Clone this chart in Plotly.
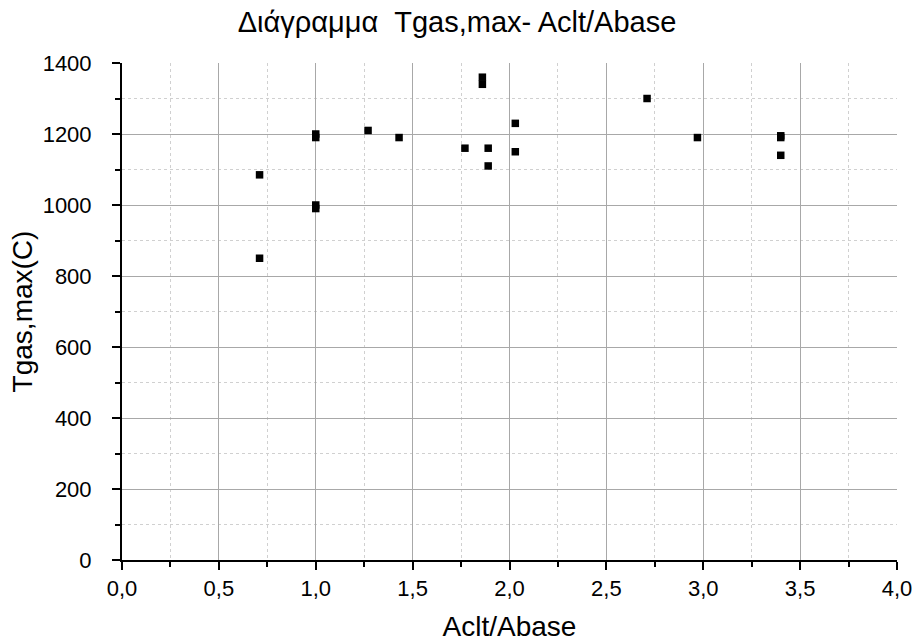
import plotly.graph_objects as go

# Data
ratio = [0.71, 0.71, 1.0, 1.0, 1.0, 1.0, 1.27, 1.43, 1.77, 1.86, 1.86, 1.89, 1.89,
         2.03, 2.03, 2.71, 2.97, 3.40, 3.40, 3.40]
tgas = [1085, 850, 1200, 1190, 1000, 990, 1210, 1190, 1160, 1360, 1340, 1160, 1110,
        1230, 1150, 1300, 1190, 1195, 1190, 1140]

x_ticks = [0.0, 0.5, 1.0, 1.5, 2.0, 2.5, 3.0, 3.5, 4.0]
y_ticks = [0, 200, 400, 600, 800, 1000, 1200, 1400]

FONT = "Liberation Sans, Arial, sans-serif"

fig = go.Figure(go.Scatter(
    x=ratio, y=tgas, mode="markers",
    marker=dict(symbol="square", size=7.5, color="black", line=dict(width=0)),
    showlegend=False,
))

axis_common = dict(
    showline=True, linecolor="black", linewidth=2,
    ticks="outside", ticklen=8, tickwidth=2, tickcolor="black",
    showgrid=True, gridcolor="#a8a8a8", gridwidth=1,
    zeroline=False, mirror=False, automargin=False,
    tickfont=dict(family=FONT, size=22, color="black"),
)

fig.update_xaxes(
    **axis_common,
    range=[0, 4.0], tickvals=x_ticks, tickformat=".1f",
    ticklabelstandoff=0,
    minor=dict(dtick=0.25, ticks="outside", ticklen=5, tickwidth=2, tickcolor="black",
               showgrid=True, gridcolor="#d0d0d0", griddash="3px,3px", gridwidth=1),
    title=dict(text="Aclt/Abase", font=dict(family=FONT, size=28, color="black"), standoff=16),
)
fig.update_yaxes(
    **axis_common,
    range=[0, 1400], tickvals=y_ticks, tickformat="d",
    ticklabelstandoff=16,
    minor=dict(dtick=100, ticks="outside", ticklen=5, tickwidth=2, tickcolor="black",
               showgrid=True, gridcolor="#d0d0d0", griddash="3px,3px", gridwidth=1),
    title=dict(text="Tgas,max(C)", font=dict(family=FONT, size=28, color="black"), standoff=2),
)

fig.update_layout(
    width=914, height=644,
    separators=",.",
    paper_bgcolor="white", plot_bgcolor="white",
    margin=dict(l=122, r=17, t=63, b=84, autoexpand=False),
    title=dict(text="Διάγραμμα  Tgas,max- Aclt/Abase", x=0.5, xanchor="center",
               xref="container", y=1 - 22 / 644, yanchor="middle",
               font=dict(family=FONT, size=29, color="black")),
)

fig.write_html("out.html", config={"displayModeBar": False},
               post_script="document.body.style.margin='0';")
